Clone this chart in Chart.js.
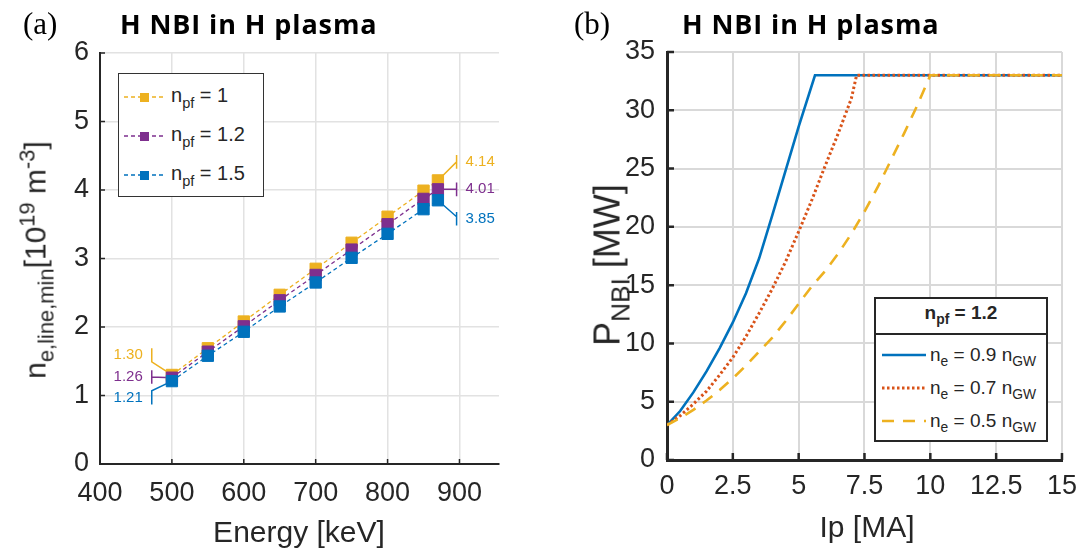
<!DOCTYPE html>
<html><head><meta charset="utf-8">
<script src="https://cdn.jsdelivr.net/npm/chart.js@4.4.1/dist/chart.umd.min.js"></script>
<style>
html,body{margin:0;padding:0;background:#fff;}
#wrap{position:relative;width:1087px;height:549px;overflow:hidden;font-family:"Liberation Sans",Arial,sans-serif;color:#262626;}
canvas{position:absolute;top:0;}
.ov{position:absolute;white-space:nowrap;}
.sub{position:relative;font-size:0.73em;top:0.38em;}
.sup{position:relative;font-size:0.73em;top:-0.5em;}
.ttl{font-family:"Open Sans",sans-serif;font-weight:700;font-size:27px;line-height:27px;letter-spacing:0.9px;color:#000;}
.pl{font-family:"Liberation Serif","Times New Roman",serif;font-size:31px;line-height:31px;color:#000;}
.axt{font-size:30px;line-height:30px;}
.lg{position:absolute;background:#fff;box-sizing:border-box;}
.lg .row{position:absolute;font-size:19px;line-height:19px;white-space:nowrap;}
.lg svg{position:absolute;}
</style></head>
<body>
<div id="wrap">
  <canvas id="cA" width="560" height="549" style="left:0px"></canvas>
  <canvas id="cB" width="527" height="549" style="left:560px"></canvas>

  <div class="ov pl" style="left:23px;top:8px;">(a)</div>
  <div class="ov ttl" style="left:120px;top:10px;">H NBI in H plasma</div>
  <div class="ov pl" style="left:574px;top:8px;">(b)</div>
  <div class="ov ttl" style="left:682px;top:10px;">H NBI in H plasma</div>

  <div class="ov axt" style="left:299px;top:517px;transform:translateX(-50%);">Energy [keV]</div>
  <div class="ov axt" style="left:867px;top:512px;transform:translateX(-50%);">Ip [MA]</div>

  <div class="ov axt" style="left:37px;top:260px;transform:translate(-50%,-50%) rotate(-90deg);">n<span class="sub">e,line,min</span>[10<span class="sup">19</span> m<span class="sup">-3</span>]</div>
  <div class="ov axt" style="left:609px;top:265px;font-size:36px;line-height:36px;transform:translate(-50%,-50%) rotate(-90deg);">P<span class="sub">NBI</span> [MW]</div>

  <div class="lg" id="legA" style="left:118px;top:73px;width:146px;height:124px;border:1.5px solid #333;"></div>
  <div class="lg" id="legB" style="left:874px;top:297px;width:174px;height:145px;border:2px solid #262626;"></div>
</div>
<script>
// ---------- Panel (a) data ----------
const energyKeV   = [500, 550, 600, 650, 700, 750, 800, 850, 870];
const nMin_npf1   = [1.30, 1.69, 2.08, 2.47, 2.85, 3.23, 3.61, 3.99, 4.14];
const nMin_npf12  = [1.26, 1.64, 2.01, 2.39, 2.76, 3.13, 3.50, 3.87, 4.01];
const nMin_npf15  = [1.21, 1.58, 1.93, 2.30, 2.65, 3.01, 3.36, 3.72, 3.85];
const npfValues   = ['1', '1.2', '1.5'];
const energyTicks = [400, 500, 600, 700, 800, 900];
const densityTicks = [0, 1, 2, 3, 4, 5, 6];
// value call-outs (annotation anchor positions, data units)
const calloutLeftX  = 472;
const calloutRightX = 896;
const calloutLeftCenter  = [1.59, 1.27, 0.97];
const calloutLeftJoin    = [1.49, 1.27, 1.07];
const calloutRightCenter = [4.41, 4.01, 3.58];
const calloutRightJoin   = [4.41, 4.01, 3.61];
const calloutCapHalf = 0.10;

// ---------- Panel (b) data ----------
const ipBlue   = [0, 0.5, 1, 1.5, 2, 2.5, 3, 3.5, 4, 4.5, 5, 5.62, 15];
const pBlue    = [3.0, 4.2, 5.8, 7.6, 9.6, 11.8, 14.3, 17.3, 21.0, 24.8, 28.6, 33, 33];
const ipOrange = [0, 0.5, 1, 1.5, 2, 2.5, 3, 3.5, 4, 4.5, 5, 5.5, 6, 6.5, 7, 7.2, 15];
const pOrange  = [3.0, 3.8, 4.8, 5.9, 7.3, 8.8, 10.6, 12.6, 14.7, 17.0, 19.6, 22.3, 25.2, 28.0, 31.0, 33, 33];
const ipYellow = [0, 0.5, 1, 1.5, 2, 2.5, 3, 3.5, 4, 4.5, 5, 5.5, 6, 6.5, 7, 7.5, 8, 8.5, 9, 9.5, 10, 15];
const pYellow  = [3.0, 3.6, 4.3, 5.1, 6.0, 7.0, 8.1, 9.3, 10.5, 11.9, 13.4, 14.9, 16.2, 17.7, 19.4, 21.3, 23.4, 25.7, 28.0, 30.4, 33, 33];
const neFractions = ['0.9', '0.7', '0.5'];
const ipTicks = [0, 2.5, 5, 7.5, 10, 12.5, 15];
const pTicks  = [0, 5, 10, 15, 20, 25, 30, 35];

const C_BLUE = '#0072BD', C_ORANGE = '#D95319', C_YELLOW = '#EDB120', C_PURPLE = '#7E2F8E';
const AX = '#262626';
Chart.defaults.font.family = '"Liberation Sans", Arial, sans-serif';
Chart.defaults.color = AX;

const xy = (xs, ys) => xs.map((x, i) => ({x, y: ys[i]}));

function inwardTicks(len, width) {
  return {
    id: 'inwardTicks',
    afterDraw(chart) {
      const {ctx, chartArea: a, scales: {x, y}} = chart;
      ctx.save();
      ctx.strokeStyle = AX; ctx.lineWidth = width;
      ctx.beginPath();
      x.ticks.forEach(t => { const p = x.getPixelForValue(t.value); ctx.moveTo(p, a.bottom); ctx.lineTo(p, a.bottom - len); });
      y.ticks.forEach(t => { const p = y.getPixelForValue(t.value); ctx.moveTo(a.left, p); ctx.lineTo(a.left + len, p); });
      ctx.stroke();
      ctx.restore();
    }
  };
}

// ---------- Chart A ----------
const seriesA = [
  {vals: nMin_npf1,  color: C_YELLOW, order: 3},
  {vals: nMin_npf12, color: C_PURPLE, order: 2},
  {vals: nMin_npf15, color: C_BLUE,   order: 1}
];
const datasetsA = [];
seriesA.forEach((s, i) => {
  datasetsA.push({
    data: xy(energyKeV, s.vals), order: s.order,
    borderColor: s.color, backgroundColor: s.color,
    borderWidth: 1.3, borderDash: [4, 3],
    pointStyle: 'rect', pointRadius: 8, pointBorderWidth: 1,
    pointBackgroundColor: s.color, pointBorderColor: s.color
  });
  const last = s.vals.length - 1;
  const c1 = calloutLeftCenter[i], c2 = calloutRightCenter[i], h = calloutCapHalf;
  datasetsA.push({
    data: [
      {x: energyKeV[0], y: s.vals[0]}, {x: calloutLeftX, y: calloutLeftJoin[i]},
      {x: calloutLeftX, y: c1 + h}, {x: calloutLeftX, y: c1 - h},
      {x: calloutLeftX, y: null},
      {x: energyKeV[last], y: s.vals[last]}, {x: calloutRightX, y: calloutRightJoin[i]},
      {x: calloutRightX, y: c2 + h}, {x: calloutRightX, y: c2 - h}
    ],
    order: 10 + i, borderColor: s.color, borderWidth: 1.5, pointRadius: 0, spanGaps: false
  });
});

const calloutText = {
  id: 'calloutText',
  afterDatasetsDraw(chart) {
    const {ctx, scales: {x, y}} = chart;
    ctx.save();
    ctx.font = '15px "Liberation Sans", Arial, sans-serif';
    ctx.textBaseline = 'middle';
    seriesA.forEach((s, i) => {
      ctx.fillStyle = s.color;
      ctx.textAlign = 'right';
      ctx.fillText(s.vals[0].toFixed(2), x.getPixelForValue(calloutLeftX) - 9, y.getPixelForValue(calloutLeftCenter[i]));
      ctx.textAlign = 'left';
      ctx.fillText(s.vals[s.vals.length - 1].toFixed(2), x.getPixelForValue(calloutRightX) + 9, y.getPixelForValue(calloutRightCenter[i]));
    });
    ctx.restore();
  }
};

new Chart(document.getElementById('cA'), {
  type: 'line',
  data: {datasets: datasetsA},
  options: {
    responsive: false, animation: false, devicePixelRatio: 1, events: [],
    layout: {padding: {left: 40, right: 61, top: 53, bottom: 25}},
    plugins: {legend: {display: false}, tooltip: {enabled: false}, title: {display: false}},
    scales: {
      x: {
        type: 'linear', min: 400, max: 955,
        afterBuildTicks: s => { s.ticks = energyTicks.map(v => ({value: v})); },
        afterFit: s => { s.height = 60; },
        grid: {color: '#e2e2e2', lineWidth: 1.5, drawTicks: false},
        border: {display: true, color: AX, width: 2},
        ticks: {font: {size: 27}, color: AX, padding: 13, maxRotation: 0}
      },
      y: {
        type: 'linear', min: 0, max: 6,
        afterBuildTicks: s => { s.ticks = densityTicks.map(v => ({value: v})); },
        afterFit: s => { s.width = 60; },
        grid: {color: '#e2e2e2', lineWidth: 1.5, drawTicks: false},
        border: {display: true, color: AX, width: 2},
        ticks: {font: {size: 27}, color: AX, padding: 11}
      }
    }
  },
  plugins: [calloutText, inwardTicks(5, 1.5)]
});

// ---------- Chart B ----------
new Chart(document.getElementById('cB'), {
  type: 'line',
  data: {datasets: [
    {data: xy(ipBlue, pBlue), order: 3, borderColor: C_BLUE, borderWidth: 2.6, pointRadius: 0},
    {data: xy(ipOrange, pOrange), order: 2, borderColor: C_ORANGE, borderWidth: 3, borderDash: [2.5, 2.5], pointRadius: 0},
    {data: xy(ipYellow, pYellow), order: 1, borderColor: C_YELLOW, borderWidth: 2.6, borderDash: [12, 9], pointRadius: 0}
  ]},
  options: {
    responsive: false, animation: false, devicePixelRatio: 1, events: [],
    layout: {padding: {left: 47, right: 20, top: 52, bottom: 29}},
    plugins: {legend: {display: false}, tooltip: {enabled: false}, title: {display: false}},
    scales: {
      x: {
        type: 'linear', min: 0, max: 15,
        afterBuildTicks: s => { s.ticks = ipTicks.map(v => ({value: v})); },
        afterFit: s => { s.height = 60; },
        grid: {color: '#d9d9d9', lineWidth: 2, drawTicks: false},
        border: {display: true, color: AX, width: 3},
        ticks: {font: {size: 27}, color: AX, padding: 10, maxRotation: 0}
      },
      y: {
        type: 'linear', min: 0, max: 35,
        afterBuildTicks: s => { s.ticks = pTicks.map(v => ({value: v})); },
        afterFit: s => { s.width = 60; },
        grid: {color: '#d9d9d9', lineWidth: 2, drawTicks: false},
        border: {display: true, color: AX, width: 3},
        ticks: {font: {size: 27}, color: AX, padding: 12}
      }
    }
  },
  plugins: [inwardTicks(7, 2.5)]
});

// ---------- Legends (HTML) ----------
const legA = document.getElementById('legA');
const rowsA = [{c: C_YELLOW, base: 28}, {c: C_PURPLE, base: 67}, {c: C_BLUE, base: 106}];
rowsA.forEach((r, i) => {
  const ly = r.base - 5;
  legA.insertAdjacentHTML('beforeend',
    `<svg style="left:3px;top:${ly - 6}px" width="44" height="12"><line x1="2" y1="6" x2="42" y2="6" stroke="${r.c}" stroke-width="1.3" stroke-dasharray="4 3"/><rect x="18" y="2" width="9" height="9" fill="${r.c}"/></svg>` +
    `<div class="row" style="left:52px;top:${r.base - 16}px;font-size:20px;">n<span class="sub">pf</span> = ${npfValues[i]}</div>`);
});

const legB = document.getElementById('legB');
legB.insertAdjacentHTML('beforeend',
  `<div style="position:absolute;left:0;top:34px;width:100%;border-top:2px solid ${AX};"></div>` +
  `<div class="row" style="left:0;width:100%;text-align:center;top:4px;font-weight:700;">n<span class="sub">pf</span> = 1.2</div>`);
const rowsB = [
  {c: C_BLUE, dash: '', w: 2.6, base: 62},
  {c: C_ORANGE, dash: '2.5 2.5', w: 3, base: 95},
  {c: C_YELLOW, dash: '12 9', w: 2.6, base: 128}
];
rowsB.forEach((r, i) => {
  const ly = r.base - 6;
  legB.insertAdjacentHTML('beforeend',
    `<svg style="left:4px;top:${ly - 6}px" width="46" height="12"><line x1="2" y1="6" x2="46" y2="6" stroke="${r.c}" stroke-width="${r.w}" ${r.dash ? `stroke-dasharray="${r.dash}"` : ''}/></svg>` +
    `<div class="row" style="left:54px;top:${r.base - 16}px;">n<span class="sub">e</span> = ${neFractions[i]} n<span class="sub">GW</span></div>`);
});
</script>
</body></html>
